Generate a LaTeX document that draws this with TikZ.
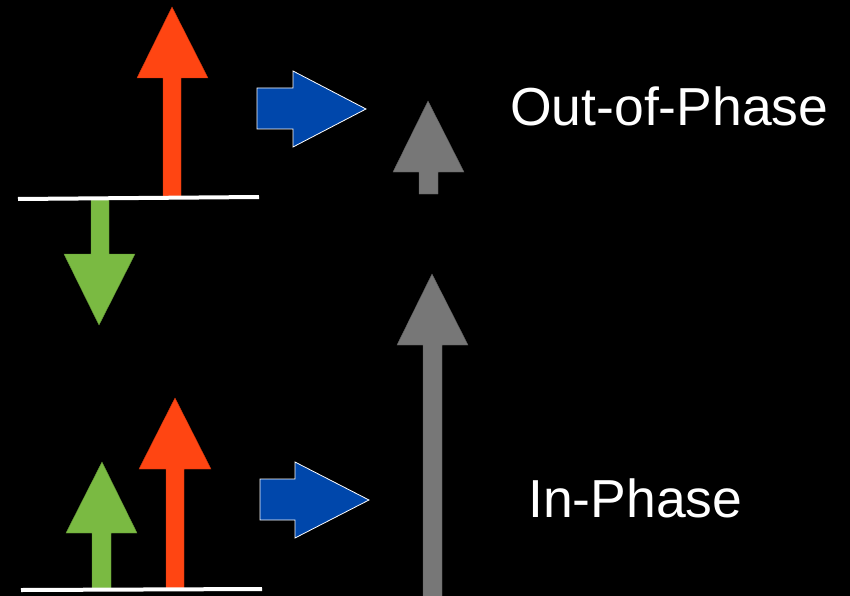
\documentclass[tikz,border=0pt]{standalone}
\usepackage{fontspec}
\setmainfont{Liberation Sans}
\definecolor{arred}{HTML}{FF4512}
\definecolor{argreen}{HTML}{7ABA42}
\definecolor{arblue}{HTML}{0047AB}
\definecolor{argray}{HTML}{777777}
\begin{document}
\begin{tikzpicture}[x=1pt,y=-1pt,
  redarrow/.style={fill=arred,draw=arred!80!black,line width=0.4pt},
  greenarrow/.style={fill=argreen,draw=argreen!80!black,line width=0.4pt},
  grayarrow/.style={fill=argray,draw=argray!80!black,line width=0.4pt},
  bluearrow/.style={fill=arblue,draw=white,line width=0.8pt,line join=miter},
  baseline/.style={draw=white,line width=4pt},
  label/.style={text=white,font=\fontsize{53.5}{60}\selectfont,inner sep=0pt,anchor=base west}]
\fill[black] (0,0) rectangle (850,596);
\useasboundingbox (0,0) rectangle (850,596);
% top-left red arrow (up)
\path[redarrow] (163,196) -- (163,78) -- (137,78) -- (172,7) -- (208,78) -- (181,78) -- (181,196) -- cycle;
% top-left green arrow (down)
\path[greenarrow] (91,200) -- (91,254) -- (64,254) -- (99,325) -- (135,254) -- (109,254) -- (109,200) -- cycle;
% top blue arrow
\path[bluearrow] (257,88) -- (293,88) -- (293,71) -- (366,109) -- (293,147) -- (293,129) -- (257,129) -- cycle;
% small gray arrow
\path[grayarrow] (419,194) -- (419,172) -- (393,172) -- (428,101) -- (464,172) -- (438,172) -- (438,194) -- cycle;
% bottom-left green arrow (up)
\path[greenarrow] (92,588) -- (92,533) -- (66,533) -- (102,462) -- (137,533) -- (111,533) -- (111,588) -- cycle;
% bottom-left red arrow (up)
\path[redarrow] (166,588) -- (166,469) -- (139,469) -- (175,398) -- (211,469) -- (184,469) -- (184,588) -- cycle;
% bottom blue arrow
\path[bluearrow] (260,479) -- (295,479) -- (295,462) -- (369,500) -- (295,538) -- (295,520) -- (260,520) -- cycle;
% big gray arrow
\path[grayarrow] (423,600) -- (423,345) -- (397,345) -- (432,274) -- (468,345) -- (442,345) -- (442,600) -- cycle;
% base lines
\coordinate (tl) at (18,199);
\coordinate (tr) at (259,197);
\coordinate (bl) at (21,590);
\coordinate (br) at (262,589);
\draw[baseline] (tl) -- (tr);
\draw[baseline] (bl) -- (br);
% labels
\node[label] (outphase) at (510,126) {Out-of-Phase};
\node[label] (inphase) at (528,517) {In-Phase};
\end{tikzpicture}
\end{document}
